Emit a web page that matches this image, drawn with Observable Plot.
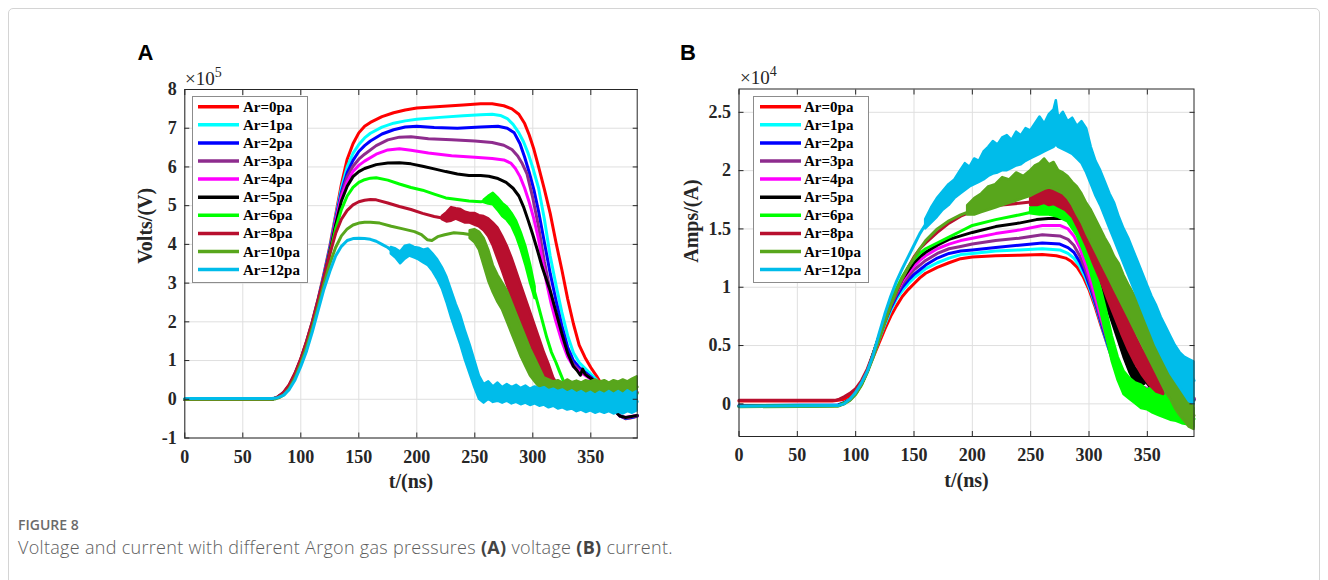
<!DOCTYPE html>
<html><head><meta charset="utf-8">
<script src="https://cdn.jsdelivr.net/npm/d3@7"></script>
<script src="https://cdn.jsdelivr.net/npm/@observablehq/plot@0.6"></script>
<style>
html,body{margin:0;padding:0;background:#fff;}
body{width:1328px;height:580px;overflow:hidden;position:relative;}
#border{position:absolute;left:8px;top:8px;width:1312px;height:620px;border:1px solid #d4d4d4;border-radius:5px;box-sizing:border-box;}
.panel{position:absolute;}
#ov{position:absolute;left:0;top:0;pointer-events:none;}
</style></head>
<body>
<div id="border"></div>
<div id="pa" class="panel" style="left:100px;top:60px"></div>
<div id="pb" class="panel" style="left:650px;top:60px"></div>
<svg id="ov" width="1328" height="580"></svg>
<script>
// ---------- shared ----------
const labels = ["Ar=0pa","Ar=1pa","Ar=2pa","Ar=3pa","Ar=4pa","Ar=5pa","Ar=6pa","Ar=8pa","Ar=10pa","Ar=12pa"];
const colors = ["#ff0000","#00ffff","#0000ff","#8e2c8e","#ff00ff","#000000","#00ff00","#b80f2e","#58a61c","#00bcea"];
const xTicks = [0,50,100,150,200,250,300,350];
const yTicksA = [-1,0,1,2,3,4,5,6,7,8];
const yTicksB = [0,0.5,1,1.5,2,2.5];

// ---------- Panel A: voltage (x10^5 V) vs t (ns) ----------
const vA0 = [[0,0],[72,0],[76,0.01],[80,0.05],[85,0.16],[90,0.36],[95,0.66],[100,1.04],[105,1.5],[110,2.02],[115,2.6],[120,3.25],[125,3.95],[130,4.75],[135,5.55],[140,6.2],[145,6.6],[150,6.88],[155,7.05],[160,7.15],[170,7.3],[180,7.4],[190,7.47],[200,7.52],[220,7.56],[240,7.6],[255,7.63],[265,7.63],[275,7.58],[282,7.5],[288,7.36],[293,7.12],[297,6.82],[301,6.45],[305,6.0],[310,5.42],[315,4.8],[320,4.05],[325,3.35],[330,2.6],[335,1.95],[340,1.4],[345,1.08],[350,0.82],[355,0.6],[360,0.35],[365,0.08],[370,-0.2],[375,-0.42],[380,-0.5],[385,-0.48],[390,-0.44]];
const vA1 = [[0,0],[72,0],[76,0.01],[80,0.05],[85,0.16],[90,0.35],[95,0.65],[100,1.03],[105,1.48],[110,2.0],[115,2.58],[120,3.22],[125,3.92],[130,4.7],[135,5.45],[140,6.0],[145,6.35],[150,6.58],[155,6.75],[160,6.87],[170,7.03],[180,7.13],[190,7.19],[200,7.23],[220,7.28],[240,7.32],[255,7.35],[265,7.36],[272,7.33],[278,7.25],[283,7.1],[288,6.88],[292,6.65],[296,6.35],[300,5.98],[305,5.45],[310,4.65],[315,3.7],[320,2.95],[325,2.25],[330,1.65],[335,1.2],[340,0.95],[345,0.8],[350,0.65],[355,0.5],[360,0.28],[365,0.02],[370,-0.24],[375,-0.43],[380,-0.49],[385,-0.47],[390,-0.43]];
const vA2 = [[0,0],[72,0],[76,0.01],[80,0.05],[85,0.16],[90,0.35],[95,0.65],[100,1.02],[105,1.47],[110,1.98],[115,2.56],[120,3.2],[125,3.88],[130,4.65],[135,5.35],[140,5.85],[145,6.17],[150,6.4],[155,6.55],[160,6.67],[170,6.85],[180,6.96],[190,7.03],[200,7.05],[215,7.02],[235,7.0],[255,7.03],[270,7.05],[278,7.0],[284,6.88],[289,6.6],[293,6.25],[297,5.85],[301,5.4],[305,4.85],[310,4.05],[315,3.25],[320,2.55],[325,1.9],[330,1.35],[335,1.0],[340,0.82],[345,0.7],[350,0.58],[355,0.42],[360,0.22],[365,0.0],[370,-0.25],[375,-0.43],[380,-0.49],[385,-0.47],[390,-0.43]];
const vA3 = [[0,0],[72,0],[76,0.01],[80,0.05],[85,0.15],[90,0.35],[95,0.64],[100,1.01],[105,1.46],[110,1.97],[115,2.54],[120,3.17],[125,3.85],[130,4.6],[135,5.28],[140,5.75],[145,6.02],[150,6.2],[155,6.33],[165,6.55],[175,6.7],[185,6.77],[195,6.78],[210,6.73],[230,6.7],[250,6.67],[265,6.63],[275,6.56],[282,6.45],[287,6.28],[291,6.08],[295,5.82],[300,5.2],[305,4.45],[310,3.55],[315,2.8],[320,2.2],[325,1.62],[330,1.18],[335,0.9],[340,0.75],[345,0.65],[350,0.55],[355,0.4],[360,0.2],[365,-0.02],[370,-0.26],[375,-0.43],[380,-0.48],[390,-0.42]];
const vA4 = [[0,0],[72,0],[76,0.01],[80,0.05],[85,0.15],[90,0.34],[95,0.63],[100,1.0],[105,1.45],[110,1.95],[115,2.52],[120,3.15],[125,3.82],[130,4.58],[135,5.22],[140,5.62],[145,5.88],[150,6.04],[155,6.15],[165,6.33],[175,6.44],[185,6.47],[195,6.43],[210,6.36],[230,6.29],[250,6.25],[265,6.22],[275,6.18],[281,6.1],[285,5.96],[289,5.75],[293,5.45],[297,5.08],[301,4.65],[305,4.12],[308,3.62],[312,3.0],[316,2.45],[320,2.0],[325,1.5],[330,1.1],[335,0.85],[340,0.72],[345,0.62],[350,0.52],[355,0.38],[360,0.18],[365,-0.04],[370,-0.27],[375,-0.43],[380,-0.47],[390,-0.42]];
const vA5 = [[0,0],[72,0],[76,0.01],[80,0.05],[85,0.15],[90,0.34],[95,0.62],[100,0.99],[105,1.43],[110,1.93],[115,2.5],[120,3.12],[125,3.8],[130,4.5],[135,5.12],[140,5.5],[145,5.75],[150,5.88],[155,5.96],[165,6.06],[175,6.1],[185,6.11],[195,6.08],[205,6.02],[215,5.95],[225,5.88],[235,5.82],[245,5.78],[255,5.78],[262,5.76],[270,5.7],[277,5.6],[283,5.45],[288,5.25],[292,4.97],[296,4.62],[300,4.25],[304,3.85],[308,3.42],[312,3.07],[315,2.8],[320,2.25],[325,1.7],[330,1.2],[335,0.85],[338,0.75],[341,0.62],[343,0.78],[345,0.65],[348,0.58],[352,0.5],[356,0.38],[360,0.18],[365,-0.05],[370,-0.28],[375,-0.43],[380,-0.47],[390,-0.42]];
const vA6 = [[0,0],[72,0],[76,0.01],[80,0.05],[85,0.15],[90,0.34],[95,0.62],[100,0.98],[105,1.42],[110,1.92],[115,2.48],[120,3.1],[125,3.75],[130,4.4],[135,4.9],[140,5.25],[145,5.47],[150,5.6],[155,5.67],[160,5.71],[165,5.72],[175,5.66],[185,5.56],[195,5.47],[205,5.4],[215,5.3],[225,5.2],[235,5.16],[245,5.12],[255,5.1],[262,5.12],[267,5.13],[272,4.98],[278,4.8],[283,4.6],[287,4.32],[290,4.05],[293,3.75],[296,3.4],[300,2.95],[304,2.5],[308,2.05],[312,1.6],[316,1.22],[320,0.95],[323,0.72],[326,0.5],[330,0.36],[340,0.3],[355,0.26],[370,0.2],[390,0.15]];
const bandA6 = [[258,5.08,5.14],[262,5.04,5.24],[266,5.02,5.32],[270,4.88,5.2],[274,4.72,5.06],[278,4.62,4.96],[282,4.46,4.8],[286,4.2,4.6],[290,3.86,4.3],[294,3.46,3.95],[298,3.0,3.48],[302,2.6,2.9]];
const vA8 = [[0,0],[72,0],[76,0.01],[80,0.06],[85,0.18],[90,0.38],[95,0.68],[100,1.05],[105,1.5],[110,2.0],[115,2.58],[120,3.15],[125,3.75],[130,4.28],[135,4.65],[140,4.88],[145,5.02],[150,5.1],[155,5.14],[160,5.16],[165,5.15],[175,5.07],[185,4.98],[195,4.9],[205,4.8],[215,4.72],[222,4.68],[230,4.78],[238,4.75],[246,4.68],[254,4.6],[262,4.42],[268,4.2],[274,3.8],[280,3.3],[286,2.8],[290,2.45],[295,2.0],[300,1.62],[305,1.25],[310,0.9],[314,0.62],[318,0.4],[322,0.28],[330,0.25],[345,0.25],[360,0.22],[375,0.2],[390,0.18]];
const bandA8 = [[222,4.64,4.72],[226,4.58,4.82],[230,4.6,4.95],[234,4.65,4.92],[238,4.6,4.9],[242,4.55,4.83],[246,4.55,4.8],[250,4.5,4.8],[254,4.45,4.74],[258,4.35,4.72],[262,4.2,4.66],[266,3.95,4.55],[270,3.62,4.42],[274,3.3,4.2],[278,2.95,3.95],[282,2.6,3.65],[286,2.25,3.3],[290,1.9,2.95],[294,1.6,2.6],[298,1.3,2.25],[302,1.02,1.9],[306,0.78,1.55],[310,0.55,1.2],[314,0.35,0.9],[318,0.2,0.55],[322,0.15,0.35]];
const vA10 = [[0,0],[74,0],[78,0.01],[82,0.05],[86,0.13],[90,0.28],[95,0.55],[100,0.92],[105,1.35],[110,1.85],[115,2.4],[120,2.98],[125,3.5],[130,3.92],[135,4.22],[140,4.4],[145,4.5],[150,4.55],[155,4.57],[160,4.57],[168,4.55],[178,4.47],[188,4.4],[198,4.33],[204,4.25],[209,4.12],[213,4.1],[218,4.2],[224,4.25],[232,4.3],[240,4.28],[248,4.24],[254,4.1],[258,3.8],[262,3.45],[266,3.1],[270,2.85],[274,2.65],[278,2.4],[282,2.1],[286,1.8],[290,1.5],[294,1.22],[298,0.95],[302,0.75],[306,0.55],[310,0.38],[320,0.32],[340,0.3],[360,0.3],[380,0.3],[390,0.32]];
const bandA10 = [[246,4.15,4.35],[250,4.05,4.38],[254,3.85,4.32],[258,3.45,4.15],[262,3.05,3.85],[266,2.75,3.45],[270,2.5,3.2],[274,2.3,3.0],[278,2.0,2.8],[282,1.7,2.5],[286,1.4,2.2],[290,1.1,1.9],[294,0.85,1.6],[298,0.6,1.3],[302,0.45,1.05],[306,0.3,0.8],[310,0.2,0.55],[314,0.15,0.5],[318,0.18,0.45],[322,0.15,0.48],[326,0.18,0.42],[330,0.15,0.5],[334,0.17,0.43],[338,0.15,0.47],[342,0.18,0.42],[346,0.15,0.48],[350,0.17,0.45],[354,0.15,0.5],[358,0.18,0.44],[362,0.15,0.48],[366,0.17,0.42],[370,0.15,0.48],[374,0.18,0.44],[378,0.15,0.5],[382,0.18,0.45],[386,0.15,0.52],[390,0.17,0.58]];
const vA12 = [[0,0.02],[75,0.02],[80,0.04],[85,0.1],[90,0.25],[95,0.5],[100,0.85],[105,1.25],[110,1.75],[115,2.3],[120,2.85],[125,3.3],[130,3.7],[135,3.95],[140,4.1],[145,4.15],[150,4.16],[155,4.15],[160,4.13],[165,4.08],[170,4.0],[175,3.92],[180,3.8],[185,3.65],[190,3.78],[195,3.85],[200,3.8],[205,3.7],[210,3.65],[215,3.5],[220,3.25],[225,2.9],[230,2.45],[235,2.0],[240,1.55],[245,1.1],[250,0.65],[254,0.3],[258,0.14],[270,0.15],[290,0.1],[310,0.05],[330,-0.05],[350,-0.08],[370,-0.1],[390,-0.06]];
const bandA12 = [[178,3.75,3.92],[182,3.65,3.88],[186,3.5,3.8],[190,3.62,3.95],[194,3.7,3.98],[198,3.65,3.92],[202,3.6,3.9],[206,3.52,3.85],[210,3.45,3.88],[214,3.3,3.75],[218,3.1,3.6],[222,2.85,3.4],[226,2.5,3.15],[230,2.1,2.8],[234,1.75,2.45],[238,1.4,2.15],[242,1.0,1.75],[246,0.65,1.4],[250,0.3,1.0],[254,0.0,0.6],[258,-0.1,0.38],[262,0.0,0.45],[266,-0.08,0.32],[270,-0.05,0.42],[274,-0.1,0.3],[278,-0.05,0.38],[282,-0.12,0.3],[286,-0.08,0.36],[290,-0.14,0.28],[294,-0.1,0.34],[298,-0.16,0.26],[302,-0.12,0.32],[306,-0.18,0.26],[310,-0.15,0.3],[314,-0.22,0.22],[318,-0.18,0.26],[322,-0.25,0.2],[326,-0.22,0.24],[330,-0.28,0.16],[334,-0.25,0.22],[338,-0.32,0.14],[342,-0.28,0.2],[346,-0.34,0.12],[350,-0.3,0.18],[354,-0.36,0.1],[358,-0.32,0.18],[362,-0.36,0.12],[366,-0.32,0.2],[370,-0.38,0.12],[374,-0.33,0.2],[378,-0.38,0.12],[382,-0.32,0.22],[386,-0.36,0.14],[390,-0.3,0.2]];

// ---------- Panel B: current (x10^4 A) vs t (ns) ----------
const vB0 = [[0,0.025],[80,0.025],[85,0.03],[90,0.04],[95,0.07],[100,0.11],[105,0.18],[110,0.28],[115,0.4],[120,0.52],[125,0.64],[130,0.75],[135,0.84],[140,0.92],[145,0.98],[150,1.03],[155,1.08],[160,1.12],[170,1.17],[180,1.21],[190,1.245],[200,1.26],[220,1.27],[240,1.275],[260,1.28],[272,1.27],[280,1.25],[285,1.22],[290,1.17],[295,1.09],[300,0.98],[305,0.84],[310,0.68],[315,0.53],[320,0.38],[325,0.27],[330,0.2],[335,0.15],[340,0.12],[350,0.1],[360,0.08],[370,0.06],[380,0.05],[390,0.04]];
const vB1 = [[0,-0.015],[85,-0.01],[90,0.01],[95,0.04],[100,0.09],[105,0.17],[110,0.28],[115,0.41],[120,0.55],[125,0.68],[130,0.8],[135,0.9],[140,0.97],[145,1.03],[150,1.08],[155,1.12],[160,1.16],[170,1.21],[180,1.25],[190,1.28],[200,1.29],[220,1.31],[240,1.32],[260,1.33],[275,1.32],[282,1.29],[287,1.25],[292,1.18],[297,1.08],[302,0.95],[307,0.8],[312,0.63],[317,0.47],[322,0.33],[327,0.24],[332,0.18],[340,0.14],[350,0.11],[360,0.08],[370,0.06],[380,0.05],[390,0.04]];
const vB2 = [[0,-0.015],[85,-0.01],[90,0.01],[95,0.04],[100,0.09],[105,0.17],[110,0.28],[115,0.42],[120,0.56],[125,0.7],[130,0.82],[135,0.92],[140,1.0],[145,1.06],[150,1.11],[155,1.15],[160,1.19],[170,1.25],[180,1.29],[190,1.31],[200,1.32],[220,1.34],[240,1.36],[260,1.38],[275,1.37],[282,1.34],[287,1.3],[292,1.22],[297,1.11],[302,0.97],[307,0.81],[312,0.64],[317,0.48],[322,0.34],[327,0.25],[332,0.19],[340,0.15],[350,0.12],[360,0.09],[370,0.07],[380,0.05],[390,0.04]];
const vB3 = [[0,-0.02],[85,-0.015],[90,0.005],[95,0.035],[100,0.09],[105,0.17],[110,0.28],[115,0.42],[120,0.57],[125,0.71],[130,0.84],[135,0.94],[140,1.03],[145,1.09],[150,1.15],[155,1.19],[160,1.23],[170,1.29],[180,1.33],[190,1.35],[200,1.37],[220,1.4],[240,1.42],[260,1.45],[275,1.44],[282,1.41],[287,1.36],[292,1.27],[297,1.15],[302,1.0],[307,0.83],[312,0.66],[317,0.5],[322,0.36],[327,0.26],[332,0.2],[340,0.16],[350,0.13],[360,0.1],[370,0.07],[380,0.05],[390,0.04]];
const vB4 = [[0,-0.02],[85,-0.015],[90,0.005],[95,0.035],[100,0.09],[105,0.17],[110,0.28],[115,0.43],[120,0.58],[125,0.72],[130,0.85],[135,0.96],[140,1.05],[145,1.12],[150,1.18],[155,1.23],[160,1.27],[170,1.33],[180,1.37],[190,1.4],[200,1.42],[220,1.46],[240,1.49],[260,1.53],[275,1.53],[282,1.5],[287,1.44],[292,1.34],[297,1.2],[302,1.04],[307,0.86],[312,0.68],[317,0.52],[322,0.38],[327,0.27],[332,0.2],[340,0.17],[350,0.13],[360,0.1],[370,0.07],[380,0.05],[390,0.04]];
const vB5 = [[0,-0.02],[85,-0.015],[90,0.005],[95,0.035],[100,0.09],[105,0.17],[110,0.28],[115,0.43],[120,0.58],[125,0.73],[130,0.86],[135,0.97],[140,1.07],[145,1.14],[150,1.21],[155,1.26],[160,1.3],[170,1.36],[180,1.41],[190,1.44],[200,1.47],[220,1.52],[240,1.55],[255,1.58],[265,1.59],[278,1.59],[284,1.57],[289,1.53],[294,1.46],[298,1.38],[303,1.26],[308,1.13],[312,1.0],[316,0.87],[320,0.74],[324,0.61],[328,0.48],[332,0.36],[336,0.26],[340,0.2],[344,0.22],[348,0.2],[352,0.15],[360,0.1],[370,0.06],[380,0.04],[390,0.03]];
const bandB5 = [[300,1.3,1.36],[305,1.15,1.28],[310,0.99,1.15],[315,0.85,1.02],[320,0.7,0.88],[325,0.55,0.74],[330,0.4,0.58],[335,0.27,0.44],[340,0.17,0.3],[345,0.16,0.28],[348,0.17,0.25]];
const vB6 = [[0,-0.02],[85,-0.015],[90,0.005],[95,0.035],[100,0.09],[105,0.17],[110,0.28],[115,0.43],[120,0.58],[125,0.73],[130,0.87],[135,0.99],[140,1.09],[145,1.17],[150,1.24],[155,1.29],[160,1.33],[172,1.39],[180,1.43],[190,1.48],[200,1.53],[220,1.58],[240,1.62],[258,1.66],[268,1.67],[276,1.65],[282,1.61],[287,1.56],[291,1.48],[295,1.38],[299,1.28],[304,1.1],[308,0.93],[313,0.74],[318,0.5],[324,0.3],[330,0.17],[340,0.08],[350,0.03],[360,-0.02],[370,-0.07],[380,-0.11],[390,-0.13]];
const bandB6 = [[250,1.63,1.68],[258,1.62,1.72],[266,1.62,1.74],[274,1.6,1.72],[282,1.56,1.68],[290,1.44,1.58],[295,1.32,1.46],[300,1.18,1.34],[305,1.0,1.18],[310,0.8,1.0],[315,0.58,0.8],[320,0.36,0.58],[325,0.2,0.4],[330,0.08,0.28],[335,0.04,0.22],[340,0.0,0.18],[345,-0.04,0.16],[350,-0.05,0.12],[355,-0.08,0.14],[360,-0.1,0.1],[365,-0.12,0.08],[370,-0.14,0.06],[375,-0.15,0.03],[380,-0.17,0.02],[385,-0.18,-0.02],[390,-0.2,-0.04]];
const vB8 = [[0,0.03],[82,0.03],[86,0.04],[90,0.06],[95,0.09],[100,0.13],[105,0.2],[110,0.3],[115,0.43],[120,0.57],[125,0.71],[130,0.84],[135,0.96],[140,1.07],[145,1.17],[150,1.26],[155,1.33],[160,1.38],[170,1.47],[180,1.55],[190,1.61],[200,1.65],[210,1.68],[220,1.7],[230,1.71],[240,1.72],[250,1.73],[256,1.76],[262,1.79],[268,1.77],[274,1.76],[280,1.73],[286,1.67],[292,1.57],[298,1.45],[304,1.31],[310,1.17],[316,1.02],[322,0.87],[328,0.73],[334,0.59],[340,0.46],[346,0.35],[352,0.26],[358,0.19],[364,0.14],[370,0.1],[380,0.07],[390,0.05]];
const bandB8 = [[250,1.7,1.76],[256,1.7,1.84],[262,1.72,1.88],[266,1.7,1.83],[270,1.71,1.87],[274,1.69,1.82],[280,1.66,1.8],[286,1.6,1.74],[292,1.48,1.66],[298,1.35,1.55],[304,1.2,1.42],[310,1.06,1.28],[316,0.9,1.14],[322,0.75,1.0],[328,0.6,0.86],[334,0.46,0.72],[340,0.34,0.58],[346,0.24,0.46],[352,0.16,0.36],[358,0.1,0.28],[364,0.08,0.2]];
const vB10 = [[0,-0.025],[85,-0.02],[90,0.0],[95,0.03],[100,0.08],[105,0.16],[110,0.27],[115,0.4],[120,0.55],[125,0.7],[130,0.84],[135,0.97],[140,1.08],[145,1.17],[150,1.25],[155,1.33],[160,1.4],[170,1.5],[180,1.57],[190,1.62],[200,1.66],[210,1.71],[220,1.76],[230,1.81],[240,1.85],[250,1.88],[258,1.93],[264,1.97],[270,1.95],[276,1.91],[282,1.86],[288,1.78],[294,1.68],[300,1.56],[306,1.45],[312,1.32],[318,1.2],[324,1.08],[330,0.96],[336,0.84],[342,0.72],[348,0.6],[354,0.48],[360,0.36],[366,0.26],[372,0.16],[378,0.06],[384,-0.03],[390,-0.1]];
const bandB10 = [[196,1.62,1.7],[202,1.62,1.76],[208,1.64,1.8],[214,1.66,1.86],[220,1.68,1.88],[226,1.7,1.94],[232,1.72,1.92],[238,1.74,1.98],[244,1.76,1.95],[250,1.78,2.0],[254,1.8,2.04],[258,1.82,2.06],[262,1.84,2.1],[266,1.85,2.05],[270,1.84,2.07],[274,1.82,2.0],[278,1.8,1.98],[282,1.76,1.95],[286,1.7,1.9],[290,1.62,1.86],[294,1.55,1.8],[298,1.46,1.72],[302,1.38,1.66],[306,1.3,1.58],[310,1.22,1.5],[314,1.14,1.42],[318,1.06,1.35],[322,0.98,1.26],[326,0.9,1.2],[330,0.82,1.1],[334,0.74,1.02],[338,0.66,0.95],[342,0.58,0.88],[346,0.5,0.78],[350,0.42,0.7],[354,0.34,0.62],[358,0.26,0.52],[362,0.18,0.45],[366,0.1,0.38],[370,0.04,0.3],[374,-0.04,0.22],[378,-0.1,0.16],[382,-0.15,0.1],[386,-0.2,0.04],[390,-0.22,0.0]];
const vB12 = [[0,-0.02],[85,-0.015],[90,0.0],[95,0.04],[100,0.1],[105,0.18],[110,0.28],[115,0.42],[120,0.6],[125,0.77],[130,0.92],[135,1.05],[140,1.16],[145,1.26],[150,1.36],[155,1.46],[160,1.54],[170,1.68],[180,1.8],[190,1.9],[200,1.98],[210,2.05],[220,2.13],[230,2.18],[240,2.22],[250,2.27],[260,2.32],[270,2.37],[280,2.32],[290,2.3],[298,2.22],[304,2.05],[310,1.9],[316,1.74],[322,1.58],[328,1.43],[334,1.28],[340,1.14],[346,1.0],[352,0.87],[358,0.74],[364,0.62],[370,0.5],[376,0.4],[382,0.3],[388,0.24],[390,0.2]];
const bandB12 = [[160,1.5,1.58],[165,1.55,1.68],[170,1.6,1.76],[175,1.66,1.82],[180,1.7,1.88],[185,1.76,1.92],[190,1.8,2.0],[194,1.83,2.06],[198,1.86,2.03],[202,1.88,2.1],[206,1.9,2.08],[210,1.92,2.16],[214,1.95,2.2],[218,1.97,2.25],[222,1.98,2.22],[226,2.0,2.28],[230,2.0,2.3],[234,2.02,2.26],[238,2.04,2.33],[242,2.05,2.3],[246,2.08,2.36],[250,2.1,2.34],[254,2.12,2.4],[258,2.14,2.46],[262,2.16,2.4],[266,2.18,2.48],[270,2.2,2.52],[272,2.22,2.6],[274,2.2,2.45],[278,2.18,2.5],[282,2.16,2.42],[286,2.14,2.45],[290,2.1,2.38],[294,2.06,2.42],[298,1.98,2.36],[302,1.88,2.2],[306,1.78,2.08],[310,1.7,2.0],[314,1.6,1.9],[318,1.5,1.8],[322,1.4,1.72],[326,1.3,1.6],[330,1.2,1.5],[334,1.1,1.42],[338,1.0,1.32],[342,0.9,1.22],[346,0.8,1.12],[350,0.7,1.02],[354,0.6,0.92],[358,0.5,0.84],[362,0.42,0.74],[366,0.34,0.66],[370,0.26,0.58],[374,0.2,0.5],[378,0.14,0.44],[382,0.08,0.4],[386,0.02,0.38],[390,0.0,0.36]];

const linesA = [vA0,vA1,vA2,vA3,vA4,vA5,vA6,vA8,vA10,vA12];
const bandsA = [null,null,null,null,null,null,bandA6,bandA8,bandA10,bandA12];
const linesB = [vB0,vB1,vB2,vB3,vB4,vB5,vB6,vB8,vB10,vB12];
const bandsB = [null,null,null,null,null,bandB5,bandB6,bandB8,bandB10,bandB12];

const SERIF = "'Liberation Serif','Times New Roman',serif";
const AXC = "#262626";

function panel(cfg) {
  const marks = [
    Plot.gridX(xTicks, {stroke: "#dfdfdf", strokeOpacity: 1, strokeWidth: 1}),
    Plot.gridY(cfg.yTicks, {stroke: "#dfdfdf", strokeOpacity: 1, strokeWidth: 1})
  ];
  cfg.lines.forEach((pts, i) => {
    marks.push(Plot.line(pts, {x: d => d[0], y: d => d[1], stroke: colors[i], strokeWidth: 3, strokeLinejoin: "round"}));
    const b = cfg.bands[i];
    if (b) marks.push(Plot.areaY(b, {x: d => d[0], y1: d => d[1], y2: d => d[2], fill: colors[i], stroke: colors[i], strokeWidth: 2.5, strokeLinejoin: "round"}));
  });
  marks.push(
    Plot.frame({stroke: AXC, strokeWidth: 1}),
    Plot.axisX(xTicks, {anchor: "bottom", tickSize: -5, fill: "none", stroke: AXC, label: null}),
    Plot.axisX(xTicks, {anchor: "top", tickSize: -5, fill: "none", stroke: AXC, label: null}),
    Plot.axisY(cfg.yTicks, {anchor: "left", tickSize: -5, fill: "none", stroke: AXC, label: null}),
    Plot.axisY(cfg.yTicks, {anchor: "right", tickSize: -5, fill: "none", stroke: AXC, label: null}),
    Plot.axisX(xTicks, {anchor: "bottom", tickSize: 0, tickPadding: 12, tickFormat: d => String(d), fill: AXC, label: null}),
    Plot.axisY(cfg.yTicks, {anchor: "left", tickSize: 0, tickPadding: 8, tickFormat: d => String(d), fill: AXC, label: null}),
    Plot.text(["t/(ns)"], {text: d => d, frameAnchor: "bottom", dy: 44, fontSize: 20, fontWeight: "bold", fill: AXC, lineAnchor: "middle"}),
    Plot.text([cfg.ylabel], {text: d => d, frameAnchor: "left", dx: cfg.ylabelDx, rotate: -90, fontSize: 20, fontWeight: "bold", fill: AXC, lineAnchor: "middle"})
  );
  return Plot.plot({
    width: 560, height: 450,
    marginLeft: cfg.ml, marginRight: cfg.mr, marginTop: cfg.mt, marginBottom: cfg.mb,
    x: {domain: [0, 390], axis: null},
    y: {domain: cfg.yDomain, axis: null},
    style: {fontFamily: SERIF, fontSize: "18px", fontWeight: "bold", background: "transparent", overflow: "visible"},
    marks
  });
}

document.getElementById("pa").append(panel({
  lines: linesA, bands: bandsA, yTicks: yTicksA, yDomain: [-1, 8], ylabel: "Volts/(V)", ylabelDx: -39,
  ml: 84.3, mr: 23.3, mt: 29, mb: 72.5
}));
document.getElementById("pb").append(panel({
  lines: linesB, bands: bandsB, yTicks: yTicksB, yDomain: [-0.28, 2.7], ylabel: "Amps/(A)", ylabelDx: -47,
  ml: 88.5, mr: 16.5, mt: 28.5, mb: 74
}));

// ---------- overlay: panel letters, exponents, legends, caption ----------
const ov = d3.select("#ov");
function letter(x, y, t) {
  ov.append("text").attr("x", x).attr("y", y).attr("font-family", "'Liberation Sans',Arial,sans-serif")
    .attr("font-weight", "bold").attr("font-size", 22).attr("fill", "#000").text(t);
}
letter(137.5, 59.5, "A");
letter(680, 59.5, "B");

function expo(x, y, e) {
  const t = ov.append("text").attr("x", x).attr("y", y).attr("font-family", SERIF)
    .attr("font-size", 19).attr("fill", AXC);
  t.append("tspan").text("×10");
  t.append("tspan").attr("font-size", 14).attr("dy", -8).text(e);
}
expo(185, 85, "5");
expo(740, 84, "4");

function legend(x0, y0, lx0, tx0) {
  const g = ov.append("g");
  g.append("rect").attr("x", x0 + 0.5).attr("y", y0 + 0.5).attr("width", 115).attr("height", 186)
    .attr("fill", "#fff").attr("stroke", "#8c8c8c").attr("stroke-width", 1);
  labels.forEach((lab, i) => {
    const cy = y0 + 10.7 + 18.1 * i;
    g.append("line").attr("x1", lx0).attr("x2", lx0 + 41).attr("y1", cy).attr("y2", cy)
      .attr("stroke", colors[i]).attr("stroke-width", 3.5);
    g.append("text").attr("x", tx0).attr("y", cy + 5).attr("font-family", SERIF).attr("font-weight", "bold")
      .attr("font-size", 15).attr("fill", "#000").text(lab);
  });
}
legend(192, 96, 198, 243);
legend(753, 96, 760, 804);

ov.append("text").attr("x", 18).attr("y", 529.5).attr("font-family", "'Open Sans',sans-serif")
  .attr("font-size", 14).attr("font-weight", 600).attr("fill", "#6b6b6b").text("FIGURE 8");
const cap = ov.append("text").attr("x", 18).attr("y", 553.5).attr("font-family", "'Open Sans',sans-serif")
  .attr("font-size", 18).attr("font-weight", 300).attr("letter-spacing", 0.3).attr("fill", "#5e5e5e");
cap.append("tspan").text("Voltage and current with different Argon gas pressures ");
cap.append("tspan").attr("font-weight", "bold").attr("fill", "#444").text("(A)");
cap.append("tspan").text(" voltage ");
cap.append("tspan").attr("font-weight", "bold").attr("fill", "#444").text("(B)");
cap.append("tspan").text(" current.");
</script>
</body></html>
